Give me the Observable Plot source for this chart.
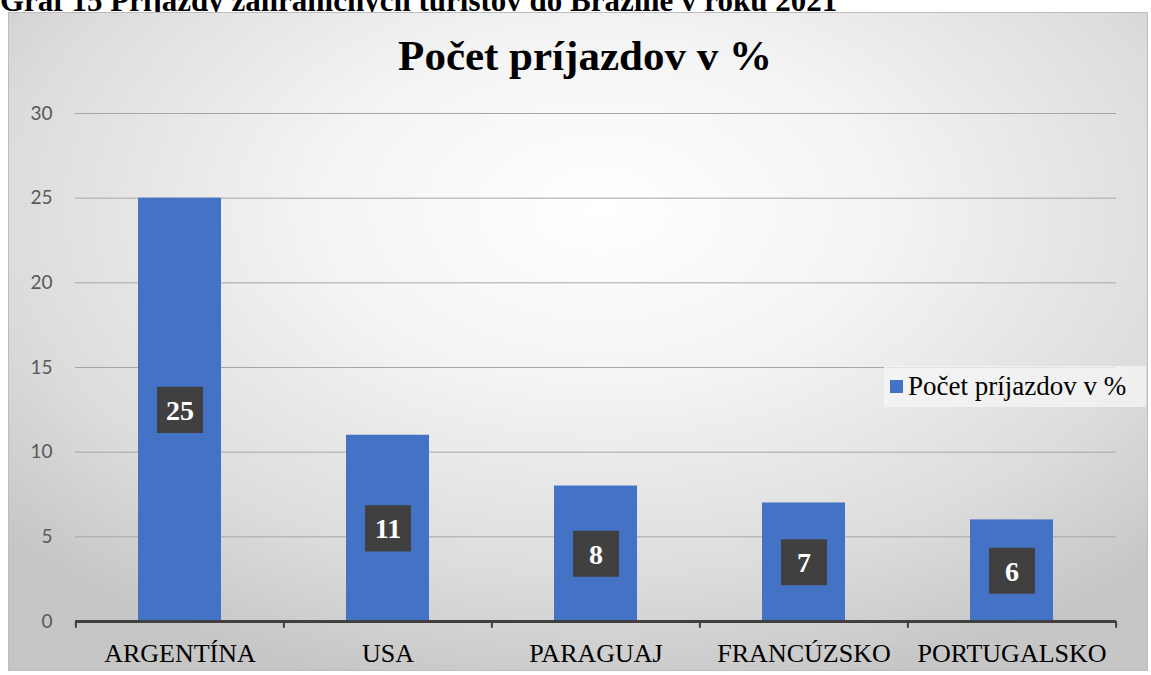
<!DOCTYPE html>
<html><head><meta charset="utf-8">
<script src="https://cdn.jsdelivr.net/npm/d3@7"></script>
<script src="https://cdn.jsdelivr.net/npm/@observablehq/plot@0.6"></script>
<style>
html,body{margin:0;padding:0;background:#fff;width:1151px;height:675px;overflow:hidden;}
#heading{position:absolute;left:0;top:-15px;line-height:1;font:bold 31px "Liberation Serif",serif;line-height:1;color:#000;white-space:nowrap;}
#frame{position:absolute;left:8px;top:12px;width:1138px;height:657px;border:1px solid #bdbdbd;
 background:radial-gradient(ellipse 70% 75% at 52% 30%, #ffffff 0%, #f4f4f4 35%, #dcdcdc 75%, #c6c6c6 100%);}
#title{position:absolute;left:19px;top:31px;width:1132px;text-align:center;font:bold 43px "Liberation Serif",serif;color:#000;}
#legend{position:absolute;left:884px;top:366px;width:262px;height:41px;background:rgba(245,245,245,0.75);
 font:27px "Liberation Serif",serif;color:#000;display:flex;align-items:center;white-space:nowrap;}
#legend span.sw{display:inline-block;width:13px;height:13px;background:#4472C4;margin:0 5px 0 6px;}
#chart{position:absolute;left:0;top:0;}
</style></head>
<body>
<div id="heading">Graf 15 Príjazdy zahraničných turistov do Brazílie v roku 2021</div>
<div id="frame"></div>
<div id="chart"></div>
<div id="title">Počet príjazdov v %</div>
<div id="legend"><span class="sw"></span>Počet príjazdov v %</div>
<script>
const categories = ["ARGENTÍNA", "USA", "PARAGUAJ", "FRANCÚZSKO", "PORTUGALSKO"];
const values = [25, 11, 8, 7, 6];
const yTicks = [0, 5, 10, 15, 20, 25, 30];
const data = categories.map((c, i) => ({country: c, value: values[i]}));

const W = 1151, H = 675, mL = 75, mR = 35;
const band = (W - mL - mR) / categories.length;

const chart = Plot.plot({
  width: W, height: H,
  marginLeft: mL, marginRight: mR, marginTop: 113, marginBottom: 54,
  style: {background: "transparent", overflow: "visible"},
  x: {domain: categories, paddingInner: 0.6, paddingOuter: 0.3, align: 0.5, label: null},
  y: {domain: [0, 30], label: null},
  marks: [
    Plot.gridY(yTicks, {stroke: "#a6a6a6", strokeOpacity: 1, strokeWidth: 1}),
    Plot.axisY(yTicks, {tickSize: 0, tickPadding: 23, fontSize: 19, fontFamily: "Lato, sans-serif", fill: "#595959", label: null}),
    Plot.barY(data, {x: "country", y: "value", fill: "#4472C4"}),
    Plot.ruleY([0], {stroke: "#404040", strokeWidth: 3}),
    Plot.ruleX(categories, {x: d => d, y1: 0, y2: -0.4, dx: -band / 2, stroke: "#404040", strokeWidth: 2}),
    Plot.ruleX([categories[categories.length - 1]], {x: d => d, y1: 0, y2: -0.4, dx: band / 2, stroke: "#404040", strokeWidth: 2}),
    Plot.axisX({tickSize: 0, tickPadding: 22, fontSize: 26, fontFamily: "Liberation Serif, serif", fill: "#000", label: null}),
    Plot.dot(data, {x: "country", y: d => d.value / 2, symbol: "square", r: 26, fill: "#404040", stroke: "none",
      style: {filter: "drop-shadow(3px 3px 3px rgba(0,0,0,0.45))"}}),
    Plot.text(data, {x: "country", y: d => d.value / 2, text: d => String(d.value), fill: "#fff",
      fontSize: 28, fontWeight: "bold", fontFamily: "Liberation Serif, serif", dy: 1})
  ]
});
document.getElementById("chart").appendChild(chart);
</script>
</body></html>
